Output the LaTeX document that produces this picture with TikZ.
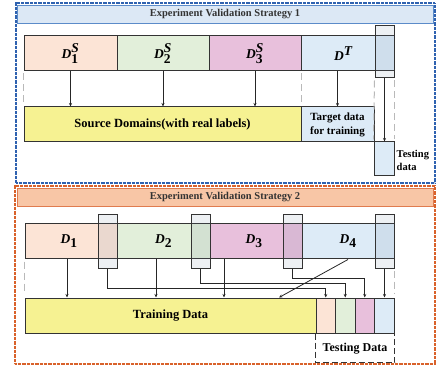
\documentclass[tikz,border=0pt]{standalone}
\usepackage{fontspec}
\setmainfont{Liberation Serif}
\usetikzlibrary{arrows.meta}
\definecolor{lc}{HTML}{333333}
\definecolor{cpeach}{HTML}{FCE4D6}
\definecolor{cgreen}{HTML}{E2EFDA}
\definecolor{cpink}{HTML}{E8C0DC}
\definecolor{cblue}{HTML}{DDEBF7}
\definecolor{cyellow}{HTML}{F6F292}
\definecolor{ovc}{RGB}{110,130,160}
\definecolor{frblue}{HTML}{2F62B0}
\definecolor{frorange}{HTML}{D9622B}
\definecolor{tblue}{HTML}{DCE8F5}
\definecolor{tblueb}{HTML}{5B8BC9}
\definecolor{torange}{HTML}{F8C6A6}
\definecolor{toranb}{HTML}{E07B4F}
\newcommand{\BD}[2]{$\textbf{\textit{D}}_{\textbf{#1}}^{\textbf{\textit{#2}}}$}
\begin{document}
\begin{tikzpicture}[x=1pt,y=-1pt,
  seg/.style={draw=lc, line width=1pt, minimum height=35pt, inner sep=0pt, font=\fontsize{12.5}{14}\selectfont\bfseries},
  dlab/.style={font=\fontsize{13.5}{14}\selectfont\bfseries},
  ovbox/.style={draw=lc, line width=1pt, fill=ovc, fill opacity=0.12, text opacity=1, minimum width=19pt, minimum height=53pt, inner sep=0pt},
  frame/.style={line width=1.2pt, dash pattern=on 0.7pt off 0.6pt, inner sep=0pt},
  titlebar/.style={line width=0.9pt, inner sep=0pt, minimum width=416pt, minimum height=18pt, font=\fontsize{10.5}{12}\selectfont\bfseries, text=black!80},
  arr/.style={draw=black!85, line width=0.8pt, -{Stealth[length=3.5pt,width=3pt]}},
  gdash/.style={draw=gray!55, line width=1pt, dash pattern=on 7pt off 4pt},
  tdash/.style={draw=lc, line width=0.9pt, dash pattern=on 6pt off 3pt}
]
\useasboundingbox (0,0) rectangle (436,371);

% ---------- Strategy 1 ----------
\node[frame, draw=frblue, minimum width=419pt, minimum height=180pt] (f1) at (225.5,93) {};
\node[titlebar, draw=tblueb, fill=tblue] (ti1) at (225,14) {Experiment Validation Strategy 1};

\node[seg, dlab, fill=cpeach, minimum width=93pt] (a1) at (70.5,53.5) {\BD{1}{S}};
\node[seg, dlab, fill=cgreen, minimum width=92pt] (a2) at (163,53.5) {\BD{2}{S}};
\node[seg, dlab, fill=cpink, minimum width=92pt] (a3) at (255,53.5) {\BD{3}{S}};
\node[seg, dlab, fill=cblue, minimum width=93pt] (a4) at (347.5,53.5) {$\textbf{\textit{D}}^{\textbf{\textit{T}}}$\hspace*{8pt}};
\node[ovbox, minimum height=52pt] (ova) at (384.5,52) {};

\node[seg, fill=cyellow, minimum width=277pt] (src) at (162.5,124.5) {Source Domains(with real labels)};
\node[seg, fill=cblue, minimum width=73pt, align=center, font=\fontsize{11}{14}\selectfont\bfseries] (tgt) at (337.5,124.5) {Target data\\for training};
\node[seg, fill=cblue, minimum width=20pt, minimum height=34pt] (tst) at (384,159) {};
\node[anchor=west, align=left, font=\fontsize{10.5}{12.5}\selectfont\bfseries, inner sep=0pt] (tstl) at (396.5,160.5) {Testing\\data};

\draw[gdash] ([yshift=-2pt]a1.south west) -- ([yshift=2pt]src.north west);
\draw[gdash] ([yshift=-2pt]a3.south east) -- ([yshift=2pt]src.north east);
\draw[gdash] ([yshift=-2pt]ova.south west) -- ([yshift=2pt]tst.north west);
\draw[gdash] ([yshift=-2pt]ova.south east) -- ([yshift=2pt]tst.north east);

\draw[arr] (a1.south) -- (a1.south |- src.north);
\draw[arr] (a2.south) -- (a2.south |- src.north);
\draw[arr] (a3.south) -- (a3.south |- src.north);
\draw[arr] (tgt.north |- a4.south) -- (tgt.north);
\draw[arr] (ova.south) -- (ova.south |- tst.north);

% ---------- Strategy 2 ----------
\node[frame, draw=frorange, minimum width=420pt, minimum height=178pt] (f2) at (225,275) {};
\node[titlebar, draw=toranb, fill=torange] (ti2) at (225,197) {Experiment Validation Strategy 2};

\node[seg, dlab, fill=cpeach, minimum width=92pt] (b1) at (71,241.5) {$\textbf{\textit{D}}_{\textbf{1}}$\hspace*{4pt}};
\node[seg, dlab, fill=cgreen, minimum width=93pt] (b2) at (163.5,241.5) {$\textbf{\textit{D}}_{\textbf{2}}$};
\node[seg, dlab, fill=cpink, minimum width=92pt] (b3) at (256,241.5) {$\textbf{\textit{D}}_{\textbf{3}}$\hspace*{4pt}};
\node[seg, dlab, fill=cblue, minimum width=92pt] (b4) at (348,241.5) {$\textbf{\textit{D}}_{\textbf{4}}$};
\node[ovbox] (ov1) at (107.5,241.5) {};
\node[ovbox] (ov2) at (200.5,241.5) {};
\node[ovbox] (ov3) at (292.5,241.5) {};
\node[ovbox] (ov4) at (384.5,241.5) {};

\node[seg, fill=cyellow, minimum width=291pt] (trn) at (170.5,315.5) {Training Data};
\node[seg, fill=cpeach, minimum width=19.5pt] (s1) at (325.75,315.5) {};
\node[seg, fill=cgreen, minimum width=19.5pt] (s2) at (345.25,315.5) {};
\node[seg, fill=cpink, minimum width=19.5pt] (s3) at (364.75,315.5) {};
\node[seg, fill=cblue, minimum width=19.5pt] (s4) at (384.25,315.5) {};

\draw[gdash] ([yshift=-2pt]b1.south west) -- ++(0,30);
\draw[gdash] ([yshift=-2pt]ov4.south east) -- ++(0,23);

\draw[arr] ([xshift=-4pt]b1.south) -- ([xshift=-4pt]b1.south |- trn.north);
\draw[arr] ([xshift=-7.5pt]b2.south) -- ([xshift=-7.5pt]b2.south |- trn.north);
\draw[arr] ([xshift=-32pt]b3.south) -- ([xshift=-32pt]b3.south |- trn.north);
\draw[arr] (b4.south) -- ([xshift=108.5pt]trn.north);

\draw[arr] (ov1.south) -- ++(0,20) -| (s1.north);
\draw[arr] (ov2.south) -- ++(0,15) -| (s2.north);
\draw[arr] (ov3.south) -- ++(0,10) -| (s3.north);
\draw[arr] (ov4.south) -- (ov4.south |- s4.north);

\draw[tdash] (s1.south west) -- ++(0,29) -| (s4.south east);
\node[font=\fontsize{12}{14}\selectfont\bfseries, inner sep=0pt] (tdl) at (355,348.5) {Testing Data};
\end{tikzpicture}
\end{document}
